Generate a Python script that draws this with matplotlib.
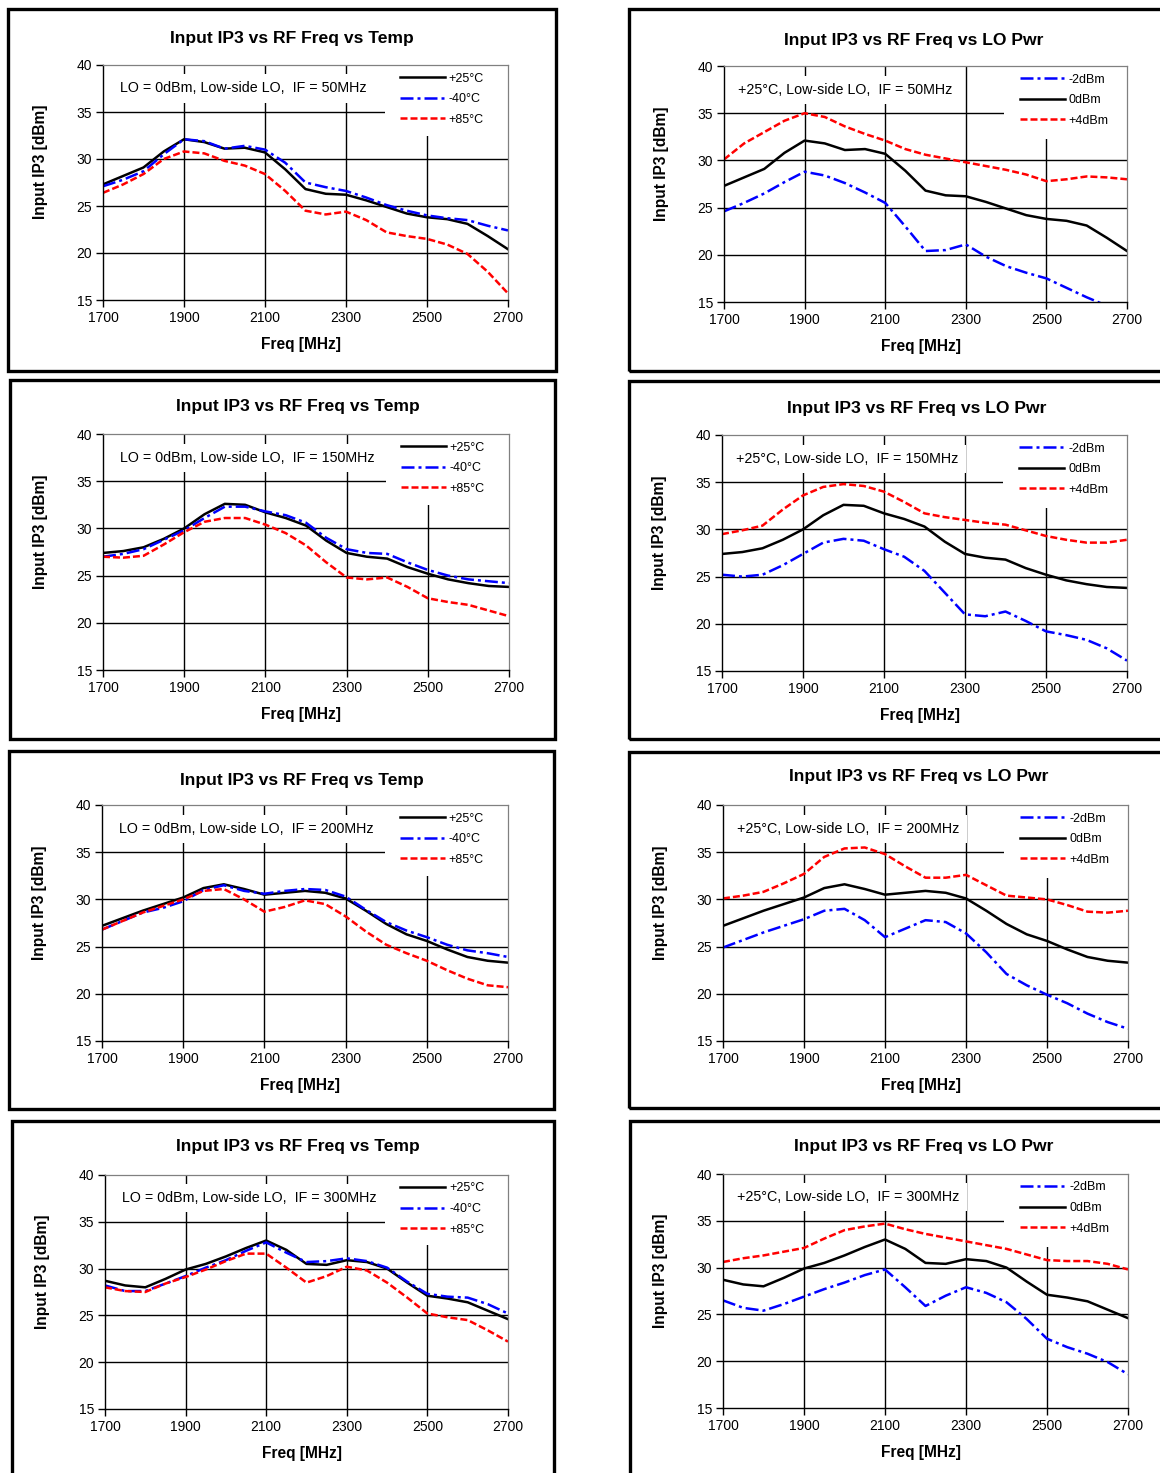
import numpy as np
import matplotlib.pyplot as plt
from matplotlib.patches import Rectangle

plt.rcParams['font.family'] = ['Liberation Sans', 'DejaVu Sans']

freq = [1700, 1750, 1800, 1850, 1900, 1950, 2000, 2050, 2100, 2150, 2200,
        2250, 2300, 2350, 2400, 2450, 2500, 2550, 2600, 2650, 2700]

# IF = 50MHz
if50_p25 = [27.3, 28.2, 29.1, 30.8, 32.1, 31.8, 31.1, 31.2, 30.7, 28.9, 26.8,
            26.3, 26.2, 25.6, 24.9, 24.2, 23.8, 23.6, 23.1, 21.8, 20.4]
if50_m40 = [27.1, 27.8, 28.7, 30.5, 32.1, 31.9, 31.1, 31.4, 31.0, 29.6, 27.5,
            27.0, 26.6, 25.9, 25.1, 24.5, 24.0, 23.7, 23.5, 22.9, 22.4]
if50_p85 = [26.4, 27.3, 28.4, 30.0, 30.8, 30.6, 29.8, 29.3, 28.4, 26.6, 24.5,
            24.1, 24.4, 23.5, 22.2, 21.8, 21.5, 20.9, 19.9, 18.0, 15.7]
if50_lo_m2 = [24.6, 25.5, 26.5, 27.7, 28.8, 28.4, 27.6, 26.6, 25.5, 23.0, 20.4,
              20.5, 21.1, 19.8, 18.8, 18.1, 17.5, 16.5, 15.5, 14.6, 13.8]
if50_lo_p4 = [30.1, 31.8, 33.0, 34.2, 35.0, 34.6, 33.6, 32.8, 32.1, 31.2, 30.6,
              30.2, 29.8, 29.4, 29.0, 28.5, 27.8, 28.0, 28.3, 28.2, 28.0]

# IF = 150MHz
if150_p25 = [27.4, 27.6, 28.0, 28.9, 30.0, 31.5, 32.6, 32.5, 31.7, 31.1, 30.3,
             28.7, 27.4, 27.0, 26.8, 25.9, 25.2, 24.6, 24.2, 23.9, 23.8]
if150_m40 = [27.0, 27.3, 27.8, 28.8, 29.8, 31.1, 32.3, 32.3, 31.8, 31.4, 30.6,
             29.0, 27.8, 27.4, 27.3, 26.4, 25.6, 25.0, 24.6, 24.4, 24.2]
if150_p85 = [27.0, 26.9, 27.1, 28.3, 29.6, 30.7, 31.1, 31.1, 30.4, 29.5, 28.2,
             26.4, 24.8, 24.6, 24.8, 23.8, 22.6, 22.2, 21.9, 21.3, 20.7]
if150_lo_m2 = [25.2, 25.0, 25.2, 26.2, 27.4, 28.6, 29.0, 28.8, 27.9, 27.1, 25.6,
               23.3, 21.0, 20.8, 21.3, 20.3, 19.2, 18.8, 18.3, 17.4, 16.1]
if150_lo_p4 = [29.5, 29.9, 30.4, 32.1, 33.6, 34.5, 34.8, 34.6, 34.0, 32.9, 31.7,
               31.3, 31.0, 30.7, 30.5, 29.9, 29.3, 28.9, 28.6, 28.6, 28.9]

# IF = 200MHz
if200_p25 = [27.2, 28.0, 28.8, 29.5, 30.2, 31.2, 31.6, 31.1, 30.5, 30.7, 30.9,
             30.7, 30.1, 28.8, 27.4, 26.3, 25.6, 24.7, 23.9, 23.5, 23.3]
if200_m40 = [26.8, 27.7, 28.6, 29.1, 29.8, 31.0, 31.5, 30.9, 30.6, 30.9, 31.1,
             31.0, 30.3, 28.9, 27.6, 26.7, 26.0, 25.2, 24.6, 24.3, 23.9]
if200_p85 = [26.8, 27.7, 28.6, 29.3, 30.0, 30.9, 31.1, 30.0, 28.7, 29.2, 29.9,
             29.5, 28.2, 26.6, 25.2, 24.3, 23.5, 22.5, 21.6, 20.9, 20.7]
if200_lo_m2 = [24.9, 25.7, 26.5, 27.2, 27.9, 28.8, 29.0, 27.8, 26.0, 26.9, 27.8,
               27.6, 26.4, 24.4, 22.1, 20.9, 19.9, 19.0, 17.9, 17.0, 16.3]
if200_lo_p4 = [30.1, 30.4, 30.8, 31.7, 32.7, 34.5, 35.4, 35.5, 34.8, 33.5, 32.3,
               32.3, 32.6, 31.5, 30.4, 30.2, 30.0, 29.4, 28.7, 28.6, 28.8]

# IF = 300MHz
if300_p25 = [28.7, 28.2, 28.0, 28.9, 29.9, 30.5, 31.3, 32.2, 33.0, 32.0, 30.5,
             30.4, 30.9, 30.7, 30.0, 28.5, 27.1, 26.8, 26.4, 25.5, 24.6]
if300_m40 = [28.2, 27.6, 27.6, 28.4, 29.2, 30.1, 30.9, 31.9, 32.8, 31.7, 30.7,
             30.8, 31.1, 30.8, 30.1, 28.6, 27.3, 27.0, 26.9, 26.2, 25.2]
if300_p85 = [28.0, 27.6, 27.5, 28.4, 29.1, 29.9, 30.8, 31.6, 31.6, 30.1, 28.5,
             29.2, 30.2, 29.8, 28.5, 26.9, 25.2, 24.8, 24.5, 23.4, 22.2]
if300_lo_m2 = [26.5, 25.7, 25.4, 26.1, 26.9, 27.7, 28.4, 29.2, 29.8, 27.9, 25.9,
               27.0, 27.9, 27.3, 26.3, 24.5, 22.4, 21.5, 20.8, 19.9, 18.6]
if300_lo_p4 = [30.6, 31.0, 31.3, 31.7, 32.1, 33.1, 34.0, 34.4, 34.7, 34.1, 33.6,
               33.2, 32.8, 32.4, 32.0, 31.4, 30.8, 30.7, 30.7, 30.4, 29.8]

if_values = ['50', '150', '200', '300']
temp_sets = [(if50_p25, if50_m40, if50_p85), (if150_p25, if150_m40, if150_p85),
             (if200_p25, if200_m40, if200_p85), (if300_p25, if300_m40, if300_p85)]
# 0dBm curve is the +25C curve of the temp chart
lo_sets = [(if50_lo_m2, if50_p25, if50_lo_p4), (if150_lo_m2, if150_p25, if150_lo_p4),
           (if200_lo_m2, if200_p25, if200_lo_p4), (if300_lo_m2, if300_p25, if300_lo_p4)]
temp_labels = ['+25°C', '-40°C', '+85°C']
lo_labels = ['-2dBm', '0dBm', '+4dBm']

LW = 1.8
black = dict(color='black', lw=LW, ls='-')
blue = dict(color='#0000ff', lw=LW, ls=(0, (5.2, 1.6, 1.2, 1.6)))
red = dict(color='#ff0000', lw=LW, ls=(0, (2.8, 1.2)))

W, H = 1160, 1473
fig = plt.figure(figsize=(W / 100, H / 100), dpi=100)

# pixel layout: panel box, plot area, title centre
left_boxes = [(8, 9, 556, 371), (10, 380, 555, 739), (9, 751, 554, 1109), (12, 1121, 554, 1480)]
right_boxes = [(629, 9, 1170, 371), (629, 381, 1170, 739), (629, 752, 1170, 1108), (630, 1121, 1170, 1480)]
left_plots = [(103, 65, 508, 300), (103, 434, 509, 670), (102, 805, 508, 1041), (105, 1175, 508, 1409)]
right_plots = [(724, 66, 1127, 302), (722, 435, 1127, 671), (723, 805, 1128, 1041), (723, 1174, 1128, 1408)]
left_titles = [(292, 38), (298, 407), (302, 781), (298, 1147)]
right_titles = [(914, 41), (917, 409), (919, 776), (924, 1146)]


def frame(b):
    x0, y0, x1, y1 = b
    fig.patches.append(Rectangle((x0 / W, 1 - y1 / H), (x1 - x0) / W, (y1 - y0) / H,
                                 transform=fig.transFigure, fill=False, lw=2.4, ec='black'))


def panel(p, title, tpos, note, series, labels, styles, rect_x, rect_y, leg_x):
    x0, y0, x1, y1 = p
    w, h = x1 - x0, y1 - y0
    ax = fig.add_axes([x0 / W, 1 - y1 / H, w / W, h / H])
    ax.set_xlim(1700, 2700)
    ax.set_ylim(15, 40)
    ax.set_xticks(range(1700, 2701, 200))
    ax.set_yticks(range(15, 41, 5))
    ax.set_axisbelow(True)
    ax.grid(True, color='black', lw=1.0)
    # no gridlines on the plot-area border
    for t in (ax.yaxis.get_major_ticks()[0], ax.yaxis.get_major_ticks()[-1],
              ax.xaxis.get_major_ticks()[0], ax.xaxis.get_major_ticks()[-1]):
        t.gridline.set_visible(False)
    for s, lab, st in zip(series, labels, styles):
        ax.plot(freq, s, label=lab, zorder=2, **st)
    # white area behind the legend hides the grid there
    ax.add_patch(Rectangle((rect_x, rect_y), 1 - rect_x, 1 - rect_y, transform=ax.transAxes,
                           fc='white', ec='none', zorder=1.5))
    ax.text(note[0], 0.90, note[1], transform=ax.transAxes, fontsize=10.3, va='center',
            bbox=dict(fc='white', ec='none', pad=5), zorder=3)
    ax.legend(loc='upper left', bbox_to_anchor=(leg_x, 0.968), frameon=False, fontsize=9,
              handlelength=3.6, handletextpad=0.3, labelspacing=0.69, borderaxespad=0,
              borderpad=0)
    for sp in ['top', 'right']:
        ax.spines[sp].set_color('#808080')
        ax.spines[sp].set_linewidth(0.9)
    for sp in ['left', 'bottom']:
        ax.spines[sp].set_color('black')
        ax.spines[sp].set_linewidth(1.0)
    ax.tick_params(direction='out', length=5, width=1, labelsize=10, pad=3)
    ax.set_xlabel('Freq [MHz]', fontsize=11.2, fontweight='bold')
    ax.set_ylabel('Input IP3 [dBm]', fontsize=11.2, fontweight='bold')
    ax.xaxis.set_label_coords(0.488, -(337 - 300) / 235)
    ax.yaxis.set_label_coords(-(103 - 48) / 405, 0.587)
    fig.text(tpos[0] / W, 1 - tpos[1] / H, title, ha='center', va='center',
             fontsize=12.6, fontweight='bold')
    return ax


for i in range(4):
    frame(left_boxes[i])
    frame(right_boxes[i])
    panel(left_plots[i], 'Input IP3 vs RF Freq vs Temp', left_titles[i],
          (0.042, 'LO = 0dBm, Low-side LO,  IF = %sMHz' % if_values[i]),
          temp_sets[i], temp_labels, [black, blue, red], 0.696, 0.70, 0.733)
    panel(right_plots[i], 'Input IP3 vs RF Freq vs LO Pwr', right_titles[i],
          (0.035, '+25°C, Low-side LO,  IF = %sMHz' % if_values[i]),
          lo_sets[i], lo_labels, [blue, black, red], 0.695, 0.69, 0.734)

fig.savefig('out.png', dpi=100, facecolor='white')
